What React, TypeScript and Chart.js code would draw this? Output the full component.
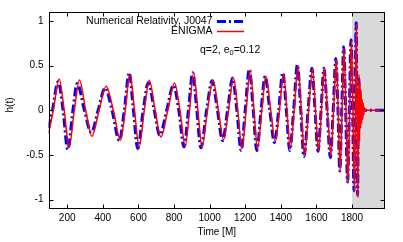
import React, { useEffect, useRef } from "react";
import { Chart, registerables } from "chart.js";

Chart.register(...registerables);

// Numerical Relativity, J0047 (blue dash-dot)
const NR_T = [
  95, 117, 149, 177, 203, 232, 256, 297, 335, 374, 413, 452, 493, 521, 548, 572, 596, 627,
  656, 689, 720, 759, 797, 827, 856, 881, 905, 928, 951, 983, 1014, 1044, 1073, 1101, 1129,
  1153, 1177, 1200, 1223, 1245, 1265, 1289, 1312, 1338, 1364, 1388, 1411, 1431, 1450, 1472,
  1493, 1512, 1530, 1553, 1575, 1592, 1609, 1626, 1642, 1660, 1678, 1694, 1709, 1721, 1731,
  1742, 1753, 1764, 1775, 1785, 1794, 1803, 1811, 1817, 1823, 1827, 1831, 1835, 1838, 1842,
  1846, 1850, 1985,
];
const NR_H = [
  -0.2, 0, 0.32, 0, -0.44, 0, 0.3, 0, -0.25, 0, 0.25, 0, -0.34, 0, 0.42, 0, -0.43, 0,
  0.31, 0, -0.28, 0, 0.28, 0, -0.41, 0, 0.42, 0, -0.42, 0, 0.33, 0, -0.34, 0, 0.36,
  0, -0.45, 0, 0.46, 0, -0.45, 0, 0.38, 0, -0.36, 0, 0.42, 0, -0.45, 0,
  0.51, 0, -0.52, 0, 0.47, 0, -0.46, 0, 0.47, 0, -0.53, 0, 0.58, 0, -0.68,
  0, 0.71, 0, -0.8, 0, 0.79, 0, -0.9, 0, 0.98, 0, -0.95, 0, 0.35, -0.15,
  0.06, 0, 0,
];

// ENIGMA (red solid)
const EN_T = [
  95, 122, 155, 183, 211, 240, 269, 304, 339, 379, 419, 459, 499, 526, 552, 578, 604, 633,
  661, 694, 726, 765, 803, 833, 863, 887, 910, 934, 957, 988, 1019, 1049, 1078, 1106, 1134,
  1158, 1181, 1205, 1228, 1249, 1269, 1293, 1316, 1343, 1369, 1392, 1415, 1434, 1453, 1475,
  1496, 1515, 1533, 1556, 1578, 1595, 1612, 1628, 1644, 1662, 1681, 1696, 1711, 1722, 1733,
  1744, 1754, 1766, 1777, 1787, 1796, 1805, 1813, 1819, 1824, 1828, 1832, 1836, 1839, 1842,
  1845, 1848, 1851, 1854, 1857, 1860, 1863, 1866, 1869, 1873, 1985,
];
const EN_H = [
  -0.26, 0, 0.35, 0, -0.41, 0, 0.34, 0, -0.29, 0, 0.27, 0, -0.335, 0, 0.41, 0, -0.41, 0,
  0.335, 0, -0.3, 0, 0.305, 0, -0.4, 0, 0.42, 0, -0.41, 0, 0.34, 0, -0.33, 0, 0.36,
  0, -0.43, 0, 0.45, 0, -0.435, 0, 0.38, 0, -0.35, 0, 0.41, 0, -0.43, 0,
  0.5, 0, -0.5, 0, 0.465, 0, -0.45, 0, 0.47, 0, -0.51, 0, 0.57, 0, -0.68,
  0, 0.7, 0, -0.82, 0, 0.78, 0, -0.91, 0, 0.96, 0, -0.97, 0, 0.4, -0.35,
  0.3, -0.2, 0.22, -0.15, 0.12, -0.1, 0.08, -0.05, 0.03, 0, 0,
];

const X_MIN = 95;
const X_MAX = 1985;
const Y_MIN = -1.1;
const Y_MAX = 1.1;
const X_TICKS = [200, 400, 600, 800, 1000, 1200, 1400, 1600, 1800];
const Y_TICKS = [-1, -0.5, 0, 0.5, 1];
const SHADE_FROM = 1800;

const LABEL_NR = "Numerical Relativity, J0047";
const LABEL_EN = "ENIGMA";
const X_TITLE = "Time [M]";
const Y_TITLE = "h(t)";

const FONT = "'Liberation Sans', Arial, sans-serif";
const BLUE = "#0000ff";
const RED = "#ff0000";
const DASH = [9, 3, 2, 3];

const decor = {
  id: "decor",
  beforeDatasetsDraw(chart: any) {
    const { ctx, chartArea: a, scales } = chart;
    const x0 = scales.x.getPixelForValue(SHADE_FROM);
    ctx.save();
    ctx.fillStyle = "#d9d9d9";
    ctx.fillRect(x0, a.top, a.right - x0, a.bottom - a.top);
    ctx.restore();
  },
  afterDraw(chart: any) {
    const { ctx, chartArea: a, scales } = chart;
    ctx.save();
    // frame
    ctx.strokeStyle = "#000";
    ctx.lineWidth = 1;
    const L = Math.round(a.left) + 0.5;
    const R = Math.round(a.right) - 0.5;
    const T = Math.round(a.top) + 0.5;
    const B = Math.round(a.bottom) - 0.5;
    ctx.strokeRect(L, T, R - L, B - T);
    // inward ticks
    const len = 4;
    ctx.beginPath();
    for (const v of X_TICKS) {
      const px = Math.round(scales.x.getPixelForValue(v)) + 0.5;
      ctx.moveTo(px, B);
      ctx.lineTo(px, B - len);
      ctx.moveTo(px, T);
      ctx.lineTo(px, T + len);
    }
    for (const v of Y_TICKS) {
      const py = Math.round(scales.y.getPixelForValue(v)) + 0.5;
      ctx.moveTo(L, py);
      ctx.lineTo(L + len, py);
      ctx.moveTo(R, py);
      ctx.lineTo(R - len, py);
    }
    ctx.stroke();

    // axis titles
    ctx.fillStyle = "#000";
    ctx.font = `10px ${FONT}`;
    ctx.textAlign = "center";
    ctx.textBaseline = "middle";
    ctx.fillText(X_TITLE, (a.left + a.right) / 2, 232);
    ctx.save();
    ctx.translate(10, 105);
    ctx.rotate(-Math.PI / 2);
    ctx.fillText(Y_TITLE, 0, 0);
    ctx.restore();

    // legend
    ctx.font = `10.5px ${FONT}`;
    ctx.textAlign = "right";
    ctx.fillText(LABEL_NR, 212.5, 21.5);
    ctx.fillText(LABEL_EN, 212.5, 31.5);
    ctx.lineCap = "butt";
    ctx.strokeStyle = BLUE;
    ctx.lineWidth = 3;
    ctx.setLineDash(DASH);
    ctx.beginPath();
    ctx.moveTo(217, 21.5);
    ctx.lineTo(244, 21.5);
    ctx.stroke();
    ctx.setLineDash([]);
    ctx.strokeStyle = RED;
    ctx.lineWidth = 1.5;
    ctx.beginPath();
    ctx.moveTo(217, 31.5);
    ctx.lineTo(244, 31.5);
    ctx.stroke();

    // annotation q=2, e_0=0.12
    ctx.textAlign = "left";
    ctx.font = `10.5px ${FONT}`;
    let x = 200;
    const yb = 50;
    const p1 = "q=2, e";
    ctx.fillText(p1, x, yb);
    x += ctx.measureText(p1).width;
    ctx.font = `7.5px ${FONT}`;
    ctx.fillText("0", x, yb + 3);
    x += ctx.measureText("0").width;
    ctx.font = `10.5px ${FONT}`;
    ctx.fillText("=0.12", x, yb);
    ctx.restore();
  },
};

export default function App() {
  const ref = useRef<HTMLCanvasElement | null>(null);
  useEffect(() => {
    if (!ref.current) return;
    const toPts = (t: number[], h: number[]) => t.map((v, i) => ({ x: v, y: h[i] }));
    const chart = new Chart(ref.current, {
      type: "line",
      data: {
        datasets: [
          {
            label: LABEL_EN,
            data: toPts(EN_T, EN_H),
            borderColor: RED,
            borderWidth: 1.5,
            pointRadius: 0,
            cubicInterpolationMode: "monotone",
            fill: false,
          },
          {
            label: LABEL_NR,
            data: toPts(NR_T, NR_H),
            borderColor: BLUE,
            borderWidth: 3,
            borderDash: DASH,
            pointRadius: 0,
            cubicInterpolationMode: "monotone",
            fill: false,
          },
        ],
      },
      options: {
        responsive: false,
        animation: false,
        devicePixelRatio: 1,
        layout: { padding: { left: 0, right: 18, top: 12, bottom: 0 } },
        plugins: { legend: { display: false }, tooltip: { enabled: false } },
        scales: {
          x: {
            type: "linear",
            min: X_MIN,
            max: X_MAX,
            afterBuildTicks: (s: any) => {
              s.ticks = X_TICKS.map((v) => ({ value: v }));
            },
            afterFit: (s: any) => {
              s.height = 33.5;
            },
            grid: { display: false, drawTicks: false },
            border: { display: false },
            ticks: {
              font: { family: FONT, size: 10 },
              color: "#000",
              padding: 4,
              maxRotation: 0,
              autoSkip: false,
              callback: (v: any) => String(v),
            },
          },
          y: {
            type: "linear",
            min: Y_MIN,
            max: Y_MAX,
            afterBuildTicks: (s: any) => {
              s.ticks = Y_TICKS.map((v) => ({ value: v }));
            },
            afterFit: (s: any) => {
              s.width = 48.5;
            },
            grid: { display: false, drawTicks: false },
            border: { display: false },
            ticks: {
              font: { family: FONT, size: 10 },
              color: "#000",
              padding: 5,
              callback: (v: any) => String(v),
            },
          },
        },
      },
      plugins: [decor],
    });
    return () => chart.destroy();
  }, []);
  return (
    <div style={{ position: "fixed", left: 0, top: 0, width: 403, height: 242, background: "#fff" }}>
      <canvas ref={ref} width={403} height={242} style={{ display: "block" }} />
    </div>
  );
}
